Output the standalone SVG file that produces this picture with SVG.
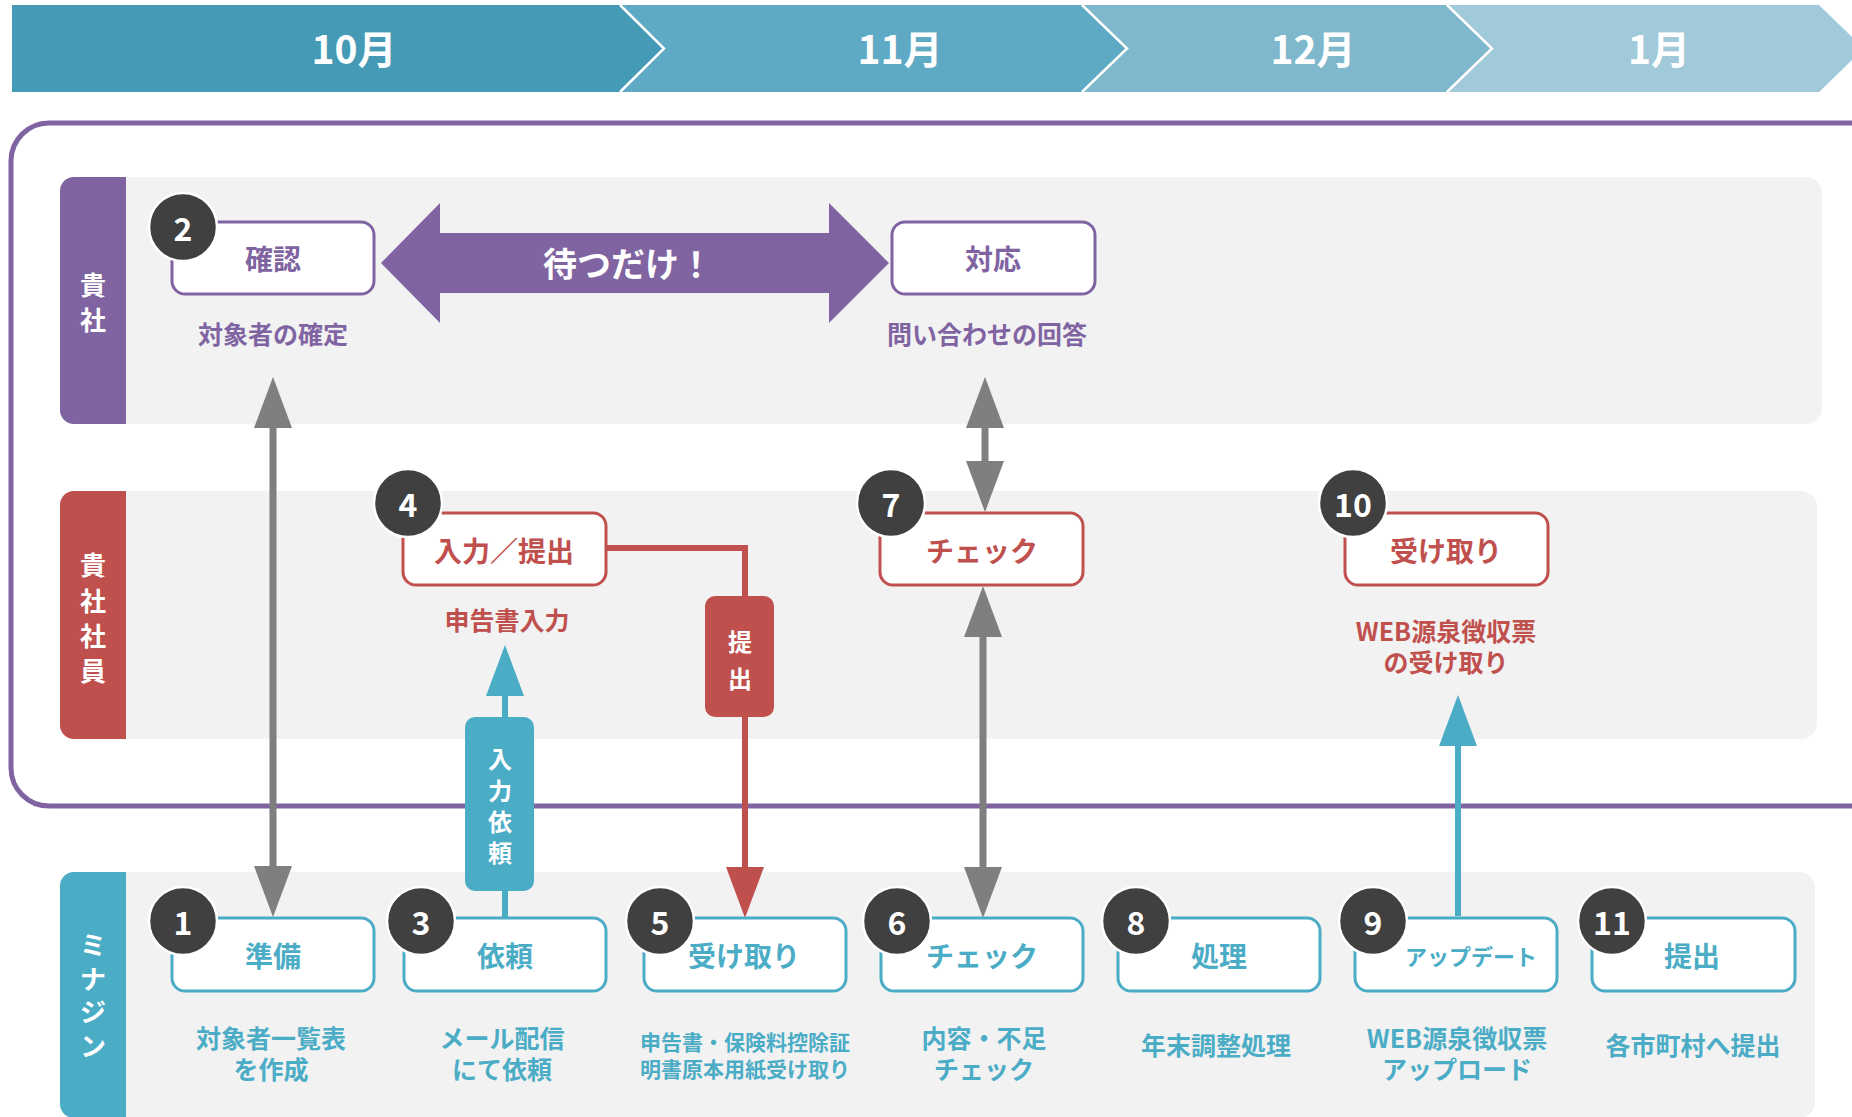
<svg xmlns="http://www.w3.org/2000/svg" width="1852" height="1117" viewBox="0 0 1852 1117">
<style>
.t{font-family:"Noto Sans CJK JP","Noto Sans",sans-serif;font-weight:700;text-anchor:middle;dominant-baseline:central}
.hd{fill:#fff;font-size:39px}
.ll{fill:#fff;font-size:26px}
.nd{fill:#fff;stroke-width:3}
.pu{stroke:#8064A2}.re{stroke:#C0504D}.te{stroke:#4BACC6}
.fpu{fill:#8064A2}.fre{fill:#C0504D}.fte{fill:#4BACC6}
.nl{font-size:28px}
.sl{font-size:25px}
.bd{fill:#404040;stroke:#fff;stroke-width:2.5}
.bn{fill:#fff;font-size:32px}
.lane{fill:#F2F2F2}
.cg{stroke:#7F7F7F;stroke-width:7;fill:none}
.cr{stroke:#C0504D;stroke-width:6;fill:none}
.ct{stroke:#4BACC6;stroke-width:6;fill:none}
.vt{fill:#fff;font-size:24px}
</style>
<defs>
<marker id="hg" markerUnits="userSpaceOnUse" markerWidth="52" markerHeight="40" viewBox="0 -20 52 40" refX="0" refY="0" orient="auto-start-reverse"><path d="M0,-19 L51,0 L0,19Z" fill="#7F7F7F"/></marker>
<marker id="hr" markerUnits="userSpaceOnUse" markerWidth="52" markerHeight="40" viewBox="0 -20 52 40" refX="0" refY="0" orient="auto"><path d="M0,-19 L51,0 L0,19Z" fill="#C0504D"/></marker>
<marker id="ht" markerUnits="userSpaceOnUse" markerWidth="52" markerHeight="40" viewBox="0 -20 52 40" refX="0" refY="0" orient="auto"><path d="M0,-19 L51,0 L0,19Z" fill="#4BACC6"/></marker>
</defs>
<rect width="1852" height="1117" fill="#fff"/>
<g id="header">
<polygon points="12,5 620,5 664,48.5 620,92 12,92" fill="#459BB5"/>
<polygon points="620,5 1082,5 1127,48.5 1082,92 620,92 664,48.5" fill="#5EA9C3"/>
<polygon points="1082,5 1447,5 1492,48.5 1447,92 1082,92 1127,48.5" fill="#7FB8CC"/>
<polygon points="1447,5 1819,5 1864,48.5 1819,92 1447,92 1492,48.5" fill="#A0C9D9"/>
<g fill="none" stroke="#fff" stroke-width="2.5">
<polyline points="620,5 664,48.5 620,92"/>
<polyline points="1082,5 1127,48.5 1082,92"/>
<polyline points="1447,5 1492,48.5 1447,92"/>
</g>
<text class="t hd" x="354" y="47">10月</text>
<text class="t hd" x="900" y="47">11月</text>
<text class="t hd" x="1313" y="47">12月</text>
<text class="t hd" x="1659" y="47">1月</text>
</g>
<rect id="frame" x="11" y="123" width="1880" height="683" rx="38" fill="none" stroke="#8064A2" stroke-width="5"/>
<g id="lane-kisha">
<rect class="lane" x="60" y="177" width="1762" height="247" rx="16"/>
<path class="fpu" d="M126,177 H74 a14,14 0 0 0 -14,14 V410 a14,14 0 0 0 14,14 H126 Z"/>
<text class="t ll" x="93" y="283">貴</text>
<text class="t ll" x="93" y="318">社</text>
</g>
<g id="lane-shain">
<rect class="lane" x="60" y="491" width="1757" height="248" rx="16"/>
<path class="fre" d="M126,491 H74 a14,14 0 0 0 -14,14 V725 a14,14 0 0 0 14,14 H126 Z"/>
<text class="t ll" x="93" y="563">貴</text>
<text class="t ll" x="93" y="599">社</text>
<text class="t ll" x="93" y="634">社</text>
<text class="t ll" x="93" y="669">員</text>
</g>
<g id="lane-minajin">
<rect class="lane" x="60" y="872" width="1755" height="246" rx="16"/>
<path class="fte" d="M126,872 H74 a14,14 0 0 0 -14,14 V1104 a14,14 0 0 0 14,14 H126 Z"/>
<text class="t ll" x="93" y="943" font-weight="500">ミ</text>
<text class="t ll" x="93" y="977" font-weight="500">ナ</text>
<text class="t ll" x="93" y="1010" font-weight="500">ジ</text>
<text class="t ll" x="93" y="1044" font-weight="500">ン</text>
</g>
<g id="connectors">
<path class="cg" d="M273,428 V866" marker-start="url(#hg)" marker-end="url(#hg)"/>
<path class="cg" d="M985,428 V461" marker-start="url(#hg)" marker-end="url(#hg)"/>
<path class="cg" d="M983,637 V867" marker-start="url(#hg)" marker-end="url(#hg)"/>
<path class="cr" d="M606,548 H745 V867" marker-end="url(#hr)"/>
<rect class="fre" x="705" y="596" width="69" height="121" rx="10"/>
<text class="t vt" x="740" y="640">提</text>
<text class="t vt" x="740" y="677">出</text>
<path class="ct" d="M505,918 V696" marker-end="url(#ht)"/>
<rect class="fte" x="465" y="717" width="69" height="174" rx="10"/>
<text class="t vt" x="500" y="757">入</text>
<text class="t vt" x="500" y="789">力</text>
<text class="t vt" x="500" y="820">依</text>
<text class="t vt" x="500" y="851">頼</text>
<path class="ct" d="M1458,916 V746" marker-end="url(#ht)"/>
</g>
<g id="wait-arrow">
<polygon class="fpu" points="381,263 440,203 440,233 829,233 829,203 889,263 829,323 829,293 440,293 440,323"/>
<text class="t" x="628" y="262" font-size="34" fill="#fff">待つだけ！</text>
</g>
<g id="n2">
<rect class="nd pu" x="172" y="222" width="202" height="72" rx="13"/>
<text class="t nl fpu" x="273" y="258">確認</text>
<text class="t sl fpu" x="273" y="333">対象者の確定</text>
<circle class="bd" cx="183" cy="227" r="34"/>
<text class="t bn" x="183" y="227">2</text>
</g>
<g id="n-taiou">
<rect class="nd pu" x="892" y="222" width="203" height="72" rx="13"/>
<text class="t nl fpu" x="993" y="258">対応</text>
<text class="t sl fpu" x="987" y="333">問い合わせの回答</text>
</g>
<g id="n4">
<rect class="nd re" x="403" y="513" width="203" height="72" rx="13"/>
<text class="t nl fre" x="504" y="550">入力／提出</text>
<text class="t sl fre" x="507" y="619">申告書入力</text>
<circle class="bd" cx="408" cy="503" r="34"/>
<text class="t bn" x="408" y="503">4</text>
</g>
<g id="n7">
<rect class="nd re" x="880" y="513" width="203" height="72" rx="13"/>
<text class="t nl fre" x="982" y="550">チェック</text>
<circle class="bd" cx="891" cy="503" r="34"/>
<text class="t bn" x="891" y="503">7</text>
</g>
<g id="n10">
<rect class="nd re" x="1345" y="513" width="203" height="72" rx="13"/>
<text class="t nl fre" x="1446" y="550">受け取り</text>
<text class="t sl fre" x="1446" y="630">WEB源泉徴収票</text>
<text class="t sl fre" x="1446" y="661">の受け取り</text>
<circle class="bd" cx="1353" cy="503" r="34"/>
<text class="t bn" x="1353" y="503" font-size="29">10</text>
</g>
<g id="n1">
<rect class="nd te" x="172" y="918" width="202" height="73" rx="13"/>
<text class="t nl fte" x="273" y="955">準備</text>
<text class="t sl fte" x="271" y="1037">対象者一覧表</text>
<text class="t sl fte" x="271" y="1068">を作成</text>
<circle class="bd" cx="183" cy="921" r="34"/>
<text class="t bn" x="183" y="921">1</text>
</g>
<g id="n3">
<rect class="nd te" x="404" y="918" width="202" height="73" rx="13"/>
<text class="t nl fte" x="505" y="955">依頼</text>
<text class="t sl fte" x="502" y="1037">メール配信</text>
<text class="t sl fte" x="502" y="1068">にて依頼</text>
<circle class="bd" cx="421" cy="921" r="34"/>
<text class="t bn" x="421" y="921">3</text>
</g>
<g id="n5">
<rect class="nd te" x="644" y="918" width="202" height="73" rx="13"/>
<text class="t nl fte" x="744" y="955">受け取り</text>
<text class="t fte" x="745" y="1041" font-size="21">申告書・保険料控除証</text>
<text class="t fte" x="745" y="1068" font-size="21">明書原本用紙受け取り</text>
<circle class="bd" cx="660" cy="921" r="34"/>
<text class="t bn" x="660" y="921">5</text>
</g>
<g id="n6">
<rect class="nd te" x="881" y="918" width="202" height="73" rx="13"/>
<text class="t nl fte" x="982" y="955">チェック</text>
<text class="t sl fte" x="984" y="1037">内容・不足</text>
<text class="t sl fte" x="984" y="1068">チェック</text>
<circle class="bd" cx="897" cy="921" r="34"/>
<text class="t bn" x="897" y="921">6</text>
</g>
<g id="n8">
<rect class="nd te" x="1118" y="918" width="202" height="73" rx="13"/>
<text class="t nl fte" x="1219" y="955">処理</text>
<text class="t sl fte" x="1216" y="1044">年末調整処理</text>
<circle class="bd" cx="1136" cy="921" r="34"/>
<text class="t bn" x="1136" y="921">8</text>
</g>
<g id="n9">
<rect class="nd te" x="1355" y="918" width="202" height="73" rx="13"/>
<text class="t fte" x="1471" y="955" font-size="22" font-weight="500">アップデート</text>
<text class="t sl fte" x="1457" y="1037">WEB源泉徴収票</text>
<text class="t sl fte" x="1457" y="1068">アップロード</text>
<circle class="bd" cx="1373" cy="921" r="34"/>
<text class="t bn" x="1373" y="921">9</text>
</g>
<g id="n11">
<rect class="nd te" x="1592" y="918" width="203" height="73" rx="13"/>
<text class="t nl fte" x="1692" y="955">提出</text>
<text class="t sl fte" x="1693" y="1044">各市町村へ提出</text>
<circle class="bd" cx="1612" cy="921" r="34"/>
<text class="t bn" x="1612" y="921" font-size="29">11</text>
</g>
</svg>
